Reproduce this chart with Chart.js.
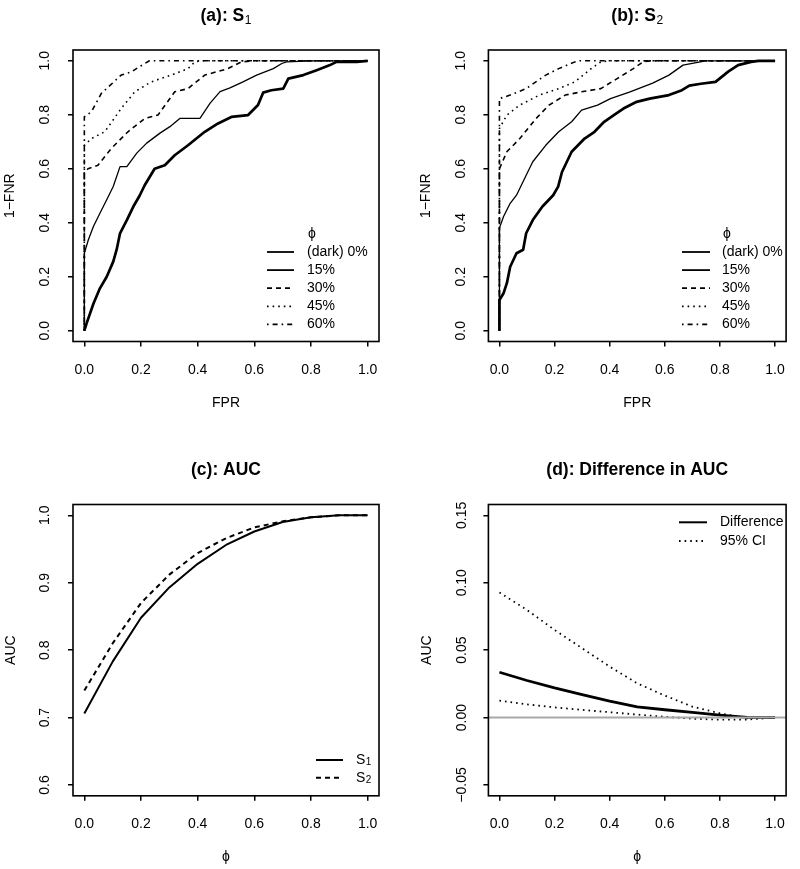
<!DOCTYPE html>
<html>
<head>
<meta charset="utf-8">
<script src="https://cdn.jsdelivr.net/npm/chart.js@4.4.1/dist/chart.umd.min.js"></script>
<style>
  body { margin: 0; background: #fff; width: 800px; height: 869px; position: relative; overflow: hidden; }
  canvas { position: absolute; }
</style>
</head>
<body>
<canvas id="rocS1" width="400" height="435" style="left:0;top:0"></canvas>
<canvas id="rocS2" width="400" height="435" style="left:400px;top:0"></canvas>
<canvas id="auc" width="400" height="434" style="left:0;top:435px"></canvas>
<canvas id="aucDiff" width="400" height="434" style="left:400px;top:435px"></canvas>
<script>
'use strict';

const FAMILY = "'Liberation Sans', Arial, Helvetica, sans-serif";
Chart.defaults.font.family = FAMILY;
Chart.defaults.font.size = 14;
Chart.defaults.color = '#000';

// ---- data ----
const rateTicks = [0, 0.2, 0.4, 0.6, 0.8, 1.0];
const aucTicks = [0.6, 0.7, 0.8, 0.9, 1.0];
const diffTicks = [-0.05, 0, 0.05, 0.10, 0.15];
const phiLevels = ['(dark) 0%', '15%', '30%', '45%', '60%'];

// ROC curves, [FPR, 1-FNR]
const s1Phi0 = [[0,0],[0.008,0.027],[0.032,0.10],[0.055,0.157],[0.079,0.20],[0.102,0.256],[0.114,0.30],
  [0.126,0.361],[0.15,0.41],[0.173,0.46],[0.195,0.50],[0.213,0.539],[0.248,0.60],[0.284,0.613],[0.319,0.65],
  [0.366,0.687],[0.425,0.737],[0.472,0.768],[0.519,0.792],[0.578,0.799],[0.613,0.836],[0.631,0.882],
  [0.66,0.891],[0.702,0.897],[0.72,0.934],[0.773,0.947],[0.82,0.965],[0.867,0.984],[0.89,0.996],
  [0.961,0.996],[1,1]];
const s1Phi15 = [[0,0],[0,0.287],[0.014,0.336],[0.032,0.386],[0.055,0.435],[0.079,0.485],[0.102,0.534],
  [0.126,0.608],[0.15,0.608],[0.185,0.658],[0.22,0.695],[0.267,0.732],[0.302,0.756],[0.338,0.787],
  [0.408,0.787],[0.444,0.843],[0.479,0.886],[0.514,0.90],[0.56,0.922],[0.608,0.947],[0.667,0.971],
  [0.697,0.99],[0.714,0.996],[0.8,1.0],[1,1]];
const s1Phi30 = [[0,0],[0,0.584],[0.013,0.60],[0.048,0.613],[0.095,0.675],[0.154,0.737],[0.213,0.786],
  [0.26,0.799],[0.319,0.885],[0.366,0.897],[0.425,0.947],[0.507,0.971],[0.554,0.996],[0.596,1.0],[1,1]];
const s1Phi45 = [[0,0],[0,0.687],[0.025,0.712],[0.072,0.737],[0.13,0.823],[0.178,0.885],[0.236,0.922],
  [0.307,0.947],[0.366,0.971],[0.39,0.996],[0.41,1.0],[1,1]];
const s1Phi60 = [[0,0],[0,0.792],[0.025,0.811],[0.06,0.879],[0.13,0.947],[0.166,0.959],[0.213,0.99],
  [0.23,1.0],[1,1]];

const s2Phi0 = [[0,0],[0,0.114],[0.015,0.139],[0.027,0.176],[0.039,0.237],[0.062,0.287],[0.086,0.30],
  [0.097,0.361],[0.121,0.41],[0.156,0.46],[0.195,0.502],[0.213,0.534],[0.227,0.588],[0.262,0.663],
  [0.309,0.712],[0.345,0.737],[0.38,0.774],[0.415,0.799],[0.45,0.823],[0.498,0.848],[0.545,0.86],
  [0.615,0.873],[0.662,0.891],[0.689,0.908],[0.731,0.915],[0.784,0.922],[0.83,0.96],[0.866,0.984],
  [0.913,0.996],[0.94,1.0],[1,1]];
const s2Phi15 = [[0,0],[0,0.38],[0.015,0.423],[0.039,0.472],[0.062,0.502],[0.097,0.576],[0.121,0.626],
  [0.168,0.687],[0.215,0.737],[0.262,0.774],[0.298,0.817],[0.356,0.836],[0.403,0.86],[0.474,0.885],
  [0.556,0.917],[0.615,0.947],[0.666,0.984],[0.748,1.0],[1,1]];
const s2Phi30 = [[0,0],[0,0.60],[0.027,0.663],[0.074,0.712],[0.133,0.786],[0.18,0.836],[0.239,0.873],
  [0.298,0.885],[0.368,0.897],[0.427,0.934],[0.486,0.971],[0.521,0.996],[0.55,1.0],[1,1]];
const s2Phi45 = [[0,0],[0,0.749],[0.027,0.799],[0.074,0.836],[0.145,0.873],[0.215,0.897],[0.274,0.922],
  [0.333,0.971],[0.368,0.996],[0.4,1.0],[1,1]];
const s2Phi60 = [[0,0],[0,0.86],[0.039,0.873],[0.097,0.897],[0.168,0.947],[0.215,0.971],[0.274,0.996],
  [0.29,1.0],[1,1]];

// AUC against phi
const phi = [0, 0.1, 0.2, 0.3, 0.4, 0.5, 0.6, 0.7, 0.8, 0.9, 1.0];
const aucS1 = [0.706, 0.783, 0.848, 0.893, 0.928, 0.956, 0.976, 0.990, 0.997, 1.0, 1.0];
const aucS2 = [0.740, 0.810, 0.870, 0.912, 0.944, 0.966, 0.982, 0.991, 0.997, 1.0, 1.0];
const diffAuc = [0.0336, 0.0275, 0.0220, 0.0170, 0.0122, 0.0080, 0.0058, 0.0038, 0.0018, 0.0002, 0];
const ciUpper = [0.0928, 0.0798, 0.0650, 0.0514, 0.0378, 0.0254, 0.0163, 0.0081, 0.0032, -0.0005, 0];
const ciLower = [0.0126, 0.0098, 0.0076, 0.0057, 0.0040, 0.0022, 0.0006, -0.0008, -0.0016, -0.0014, 0];

// axis limits as R pads them (4%)
const rateMin = -0.04, rateMax = 1.04;
const aucMin = 0.584, aucMax = 1.016;
const diffMin = -0.058, diffMax = 0.158;

// ---- helpers ----
const dashes = { solid: [], dashed: [5, 4], dotted: [1.6, 4], dotdash: [1.6, 4, 5, 4] };

const fromPairs = arr => arr.map(([x, y]) => ({x, y}));
const zipXY = (xs, ys) => xs.map((x, i) => ({x, y: ys[i]}));

function line(data, dash, width, color) {
  return {
    data,
    borderColor: color || '#000',
    borderWidth: width,
    borderDash: dashes[dash],
    borderJoinStyle: 'round',
    showLine: true,
    pointRadius: 0,
    fill: false,
    tension: 0
  };
}

function axis(min, max, ticks, digits, o) {
  const vertical = !!o.width;
  return {
    type: 'linear',
    min, max,
    afterBuildTicks: s => { s.ticks = ticks.map(value => ({value})); },
    afterFit: s => {
      if (vertical) s.width = o.width;
      else s.height = o.height;
    },
    grid: { drawOnChartArea: false, drawTicks: true, tickLength: 5, color: '#000', lineWidth: 1.5 },
    border: { display: false },
    ticks: {
      autoSkip: false,
      padding: o.tickPad,
      minRotation: vertical ? 90 : 0,
      maxRotation: vertical ? 90 : 0,
      crossAlign: vertical ? 'center' : 'near',
      color: '#000',
      font: { size: 14 },
      callback: v => v.toFixed(digits).replace('-', '\u2212')
    },
    title: {
      display: true, text: o.title, color: '#000', font: { size: 14 },
      padding: vertical ? { top: o.titlePad, bottom: 0 } : { top: 0, bottom: o.titlePad }
    }
  };
}

function textWithSub(ctx, main, sub, x, y, size, bold) {
  ctx.font = (bold ? 'bold ' : '') + size + 'px ' + FAMILY;
  ctx.fillText(main, x, y);
  if (!sub) return;
  const w = ctx.measureText(main).width;
  ctx.font = Math.round(size * 0.68) + 'px ' + FAMILY;
  ctx.fillText(sub, x + w + 0.5, y + size * 0.18);
}

// box, main title and legend in the style of base R graphics
function decorations(spec) {
  return {
    id: 'decor',
    afterDraw(chart) {
      const {ctx, chartArea: a} = chart;
      ctx.save();
      ctx.strokeStyle = '#000';
      ctx.lineWidth = 1.6;
      ctx.strokeRect(a.left, a.top, a.right - a.left, a.bottom - a.top);

      // title, centered over the plot box
      const t = spec.title;
      ctx.fillStyle = '#000';
      ctx.textBaseline = 'alphabetic';
      ctx.textAlign = 'left';
      ctx.font = 'bold 17.5px ' + FAMILY;
      let w = ctx.measureText(t.main).width;
      if (t.sub) {
        ctx.font = '12px ' + FAMILY;
        w += ctx.measureText(t.sub).width + 0.5;
      }
      textWithSub(ctx, t.main, t.sub, (a.left + a.right) / 2 - w / 2, t.y, 17.5, true);

      // legend
      const lg = spec.legend;
      if (lg.heading) {
        ctx.font = '14px ' + FAMILY;
        ctx.textBaseline = 'middle';
        ctx.fillText(lg.heading, lg.tx + 1, lg.y0 - lg.dy);
      }
      lg.items.forEach((it, i) => {
        const y = lg.y0 + i * lg.dy;
        const ds = chart.data.datasets[it.ds];
        ctx.save();
        ctx.strokeStyle = ds.borderColor;
        ctx.lineWidth = lg.lw;
        ctx.setLineDash(ds.borderDash);
        ctx.beginPath();
        ctx.moveTo(lg.x0, y);
        ctx.lineTo(lg.x1, y);
        ctx.stroke();
        ctx.restore();
        ctx.textBaseline = 'middle';
        textWithSub(ctx, it.label, it.sub, lg.tx, y, 14, false);
      });
      ctx.restore();
    }
  };
}

function makeChart(id, spec) {
  return new Chart(document.getElementById(id), {
    type: 'scatter',
    data: { datasets: spec.datasets },
    options: {
      responsive: false,
      animation: false,
      events: [],
      layout: { padding: spec.padding },
      plugins: { legend: { display: false }, tooltip: { enabled: false } },
      scales: { x: spec.x, y: spec.y }
    },
    plugins: [decorations(spec)]
  });
}

const rocLegend = (x0, x1, tx) => ({
  heading: '\u03d5', x0, x1, tx, y0: 252, dy: 18.1, lw: 1.8,
  items: phiLevels.map((label, ds) => ({label, ds}))
});

// (a): S1
makeChart('rocS1', {
  padding: { left: 0, right: 21, top: 50, bottom: 23.5 },
  datasets: [
    line(fromPairs(s1Phi0), 'solid', 2.7),
    line(fromPairs(s1Phi15), 'solid', 1.3),
    line(fromPairs(s1Phi30), 'dashed', 1.6),
    line(fromPairs(s1Phi45), 'dotted', 1.6),
    line(fromPairs(s1Phi60), 'dotdash', 1.6)
  ],
  x: axis(rateMin, rateMax, rateTicks, 1, { height: 70, tickPad: 15, title: 'FPR', titlePad: 0 }),
  y: axis(rateMin, rateMax, rateTicks, 1, { width: 73, tickPad: 13, title: '1\u2212FNR', titlePad: 1.5 }),
  title: { main: '(a): S', sub: '1', y: 20.5 },
  legend: rocLegend(267, 294, 307)
});

// (b): S2
makeChart('rocS2', {
  padding: { left: 0, right: 5.7, top: 50, bottom: 23.5 },
  datasets: [
    line(fromPairs(s2Phi0), 'solid', 2.7),
    line(fromPairs(s2Phi15), 'solid', 1.3),
    line(fromPairs(s2Phi30), 'dashed', 1.6),
    line(fromPairs(s2Phi45), 'dotted', 1.6),
    line(fromPairs(s2Phi60), 'dotdash', 1.6)
  ],
  x: axis(rateMin, rateMax, rateTicks, 1, { height: 70, tickPad: 15, title: 'FPR', titlePad: 0 }),
  y: axis(rateMin, rateMax, rateTicks, 1, { width: 88.4, tickPad: 13, title: '1\u2212FNR', titlePad: 17.5 }),
  title: { main: '(b): S', sub: '2', y: 20.5 },
  legend: rocLegend(282, 310, 322)
});

// (c): AUC
makeChart('auc', {
  padding: { left: 0, right: 21, top: 69.5, bottom: 3.2 },
  datasets: [
    line(zipXY(phi, aucS1), 'solid', 2),
    line(zipXY(phi, aucS2), 'dashed', 2)
  ],
  x: axis(rateMin, rateMax, rateTicks, 1, { height: 70, tickPad: 15, title: '\u03d5', titlePad: 0.5 }),
  y: axis(aucMin, aucMax, aucTicks, 1, { width: 73, tickPad: 13, title: 'AUC', titlePad: 3 }),
  title: { main: '(c): AUC', y: 39.5 },
  legend: {
    x0: 316, x1: 343, tx: 356, y0: 325, dy: 17.7, lw: 2,
    items: [{label: 'S', sub: '1', ds: 0}, {label: 'S', sub: '2', ds: 1}]
  }
});

// (d): Difference in AUC
makeChart('aucDiff', {
  padding: { left: 0, right: 5.7, top: 69.5, bottom: 3.2 },
  datasets: [
    line(zipXY([rateMin, rateMax], [0, 0]), 'solid', 2, '#a8a8a8'),
    line(zipXY(phi, diffAuc), 'solid', 2.8),
    line(zipXY(phi, ciUpper), 'dotted', 1.8),
    line(zipXY(phi, ciLower), 'dotted', 1.8)
  ],
  x: axis(rateMin, rateMax, rateTicks, 1, { height: 70, tickPad: 15, title: '\u03d5', titlePad: 0.5 }),
  y: axis(diffMin, diffMax, diffTicks, 2, { width: 88.4, tickPad: 3.5, title: 'AUC', titlePad: 19 }),
  title: { main: '(d): Difference in AUC', y: 39.5 },
  legend: {
    x0: 279, x1: 307, tx: 320, y0: 87.3, dy: 18.7, lw: 2,
    items: [{label: 'Difference', ds: 1}, {label: '95% CI', ds: 2}]
  }
});
</script>
</body>
</html>
